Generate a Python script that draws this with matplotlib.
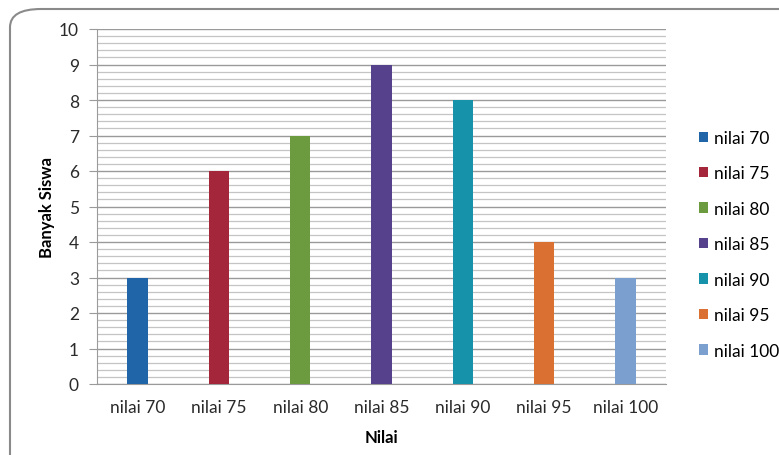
import matplotlib.pyplot as plt
from matplotlib.patches import FancyBboxPatch, Patch
from matplotlib.ticker import MultipleLocator

plt.rcParams['font.family'] = ['Lato', 'DejaVu Sans']

# data
categories = ['nilai 70', 'nilai 75', 'nilai 80', 'nilai 85', 'nilai 90', 'nilai 95', 'nilai 100']
counts = [3, 6, 7, 9, 8, 4, 3]
colors = ['#1F65A8', '#A3263A', '#6B9B3E', '#56418C', '#1692AB', '#DA7032', '#7B9FCF']

fig = plt.figure(figsize=(7.79, 4.56), dpi=100)

# rounded chart frame (cut off at right and bottom like the scan)
frame = FancyBboxPatch((10 / 779, -0.1), 1.1, (446 / 456) + 0.1,
                       boxstyle='round,pad=0,rounding_size=0.04',
                       transform=fig.transFigure, facecolor='white',
                       edgecolor='#8A8A8A', linewidth=1.5, zorder=-5)
fig.patches.append(frame)

ax = fig.add_axes([97 / 779, 71 / 456, 569 / 779, 355 / 456])
ax.set_facecolor('none')

x = range(len(categories))
ax.bar(x, counts, width=0.25, color=colors, zorder=3)

ax.set_xlim(-0.5, len(categories) - 0.5)
ax.set_ylim(0, 10)
ax.yaxis.set_major_locator(MultipleLocator(1))
ax.yaxis.set_minor_locator(MultipleLocator(0.2))
ax.grid(axis='y', which='major', color='#9A9A9A', linewidth=1.0, zorder=1)
ax.grid(axis='y', which='minor', color='#C4C4C4', linewidth=0.9, zorder=1)

ax.set_xticks(list(x))
ax.set_xticklabels(categories, fontsize=12.5, color='#2A2A2A')
ax.tick_params(axis='x', length=0, pad=11)
ax.tick_params(axis='y', which='major', length=6, color='#9A9A9A', labelsize=12.5,
               labelcolor='#2A2A2A', pad=7)
ax.tick_params(axis='y', which='minor', length=0)

for side in ['top', 'right']:
    ax.spines[side].set_visible(False)
for side in ['left', 'bottom']:
    ax.spines[side].set_color('#9A9A9A')

ax.set_xlabel('Nilai', fontsize=12, fontweight='bold', labelpad=10)
ax.set_ylabel('Banyak Siswa', fontsize=12, fontweight='bold', labelpad=3)

handles = [Patch(facecolor=c, edgecolor='none') for c in colors]
fig.legend(handles, categories, loc='upper left', bbox_to_anchor=(692 / 779, 332 / 456),
           frameon=False, fontsize=12.5, handlelength=0.55, handleheight=0.55,
           handletextpad=0.3, labelspacing=1.12, borderaxespad=0)

fig.savefig('out.png', dpi=100)
